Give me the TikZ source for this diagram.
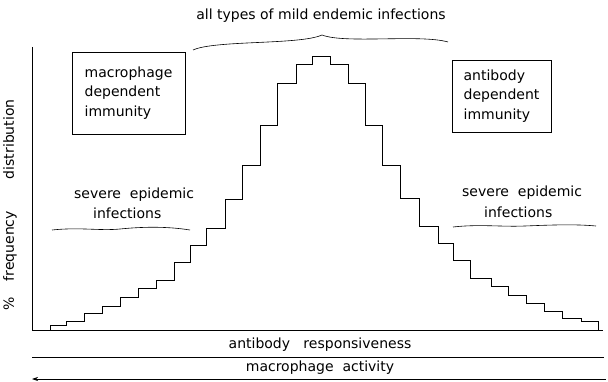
\documentclass[tikz,border=0pt]{standalone}
\usepackage{fontspec}
\setmainfont{DejaVu Sans}
\usetikzlibrary{arrows.meta}
\begin{document}
\begin{tikzpicture}[x=1pt,y=-1pt,
  lbl/.style={font=\fontsize{14}{19.5}\selectfont, inner sep=0pt},
  ibox/.style={draw, line width=0.7pt, align=left, inner sep=0pt,
    font=\fontsize{14}{19.5}\selectfont},
  axline/.style={line width=0.7pt},
  stairline/.style={line width=0.9pt, line join=miter},
  wave/.style={line width=0.6pt}]
\useasboundingbox (0,0) rectangle (608,382);

% title and brace
\node[lbl] (title) at (321,16) {all types of mild endemic infections};
\coordinate (bl) at (193,50);
\coordinate (bt) at (322,35);
\coordinate (br) at (448,42);
\draw[wave] (bl) .. controls (215,40) and (300,45) .. (bt)
            .. controls (345,44) and (420,34) .. (br);

% boxes
\node[ibox, minimum width=113pt, minimum height=82pt] (lbox) at (128.5,93)
  {macrophage\\dependent\\immunity};
\node[ibox, minimum width=99pt, minimum height=72pt] (rbox) at (501.5,96)
  {antibody\\dependent\\immunity};

% axes
\coordinate (o) at (32,330);
\coordinate (ytop) at (32,47);
\coordinate (xend) at (603,330);
\draw[axline] (ytop) -- (o) -- (xend);
\node[lbl, rotate=90] (ylab) at (10,205)
  {\%\hspace{16pt}frequency\hspace{32pt}distribution};

% staircase
\draw[stairline] (o) -- (50,330) |- (66.7,325.5) |- (84,321.7) |- (102.7,313.3)
  |- (120.7,306) |- (138.3,297.3) |- (156,288.3) |- (174.3,280)
  |- (190.3,262.3) |- (206.7,245.7) |- (225,228.3) |- (242.7,199.3)
  |- (260,165.7) |- (277.7,125.7) |- (296,83.3) |- (312,64) |- (330,56.7)
  |- (348.3,64) |- (365.7,83.3) |- (382.7,125) |- (400,165) |- (419.3,198.3)
  |- (438.3,226.7) |- (453,243) |- (470.7,260) |- (491.7,278) |- (508.3,286.7)
  |- (526.7,295) |- (544,303.3) |- (562.7,311.7) |- (581.7,318.3)
  |- (598,321.7) -- (598,330);

% severe epidemic labels
\node[lbl, anchor=west] (lsev) at (74,195) {severe\ \ epidemic};
\node[lbl, anchor=west] (linf) at (93,213) {infections};
\draw[wave] (52,230) .. controls (80,227) and (100,231) .. (120,229)
  .. controls (140,227) and (165,226) .. (190,230);
\node[lbl, anchor=west] (rsev) at (462,193) {severe\ \ epidemic};
\node[lbl, anchor=west] (rinf) at (484,212) {infections};
\draw[wave] (453,227) .. controls (480,224) and (500,227) .. (525,226)
  .. controls (550,225) and (575,224) .. (596,226);

% bottom scales
\node[lbl] (ab) at (320,345) {antibody\ \ \ responsiveness};
\coordinate (l2a) at (32,357);
\coordinate (l2b) at (604,357);
\draw[axline] (l2a) -- (l2b);
\node[lbl] (ma) at (320,368) {macrophage\ \ activity};
\coordinate (l3a) at (32,379);
\coordinate (l3b) at (606,379);
\draw[axline, {Stealth[length=6pt,width=4pt]}-] (l3a) -- (l3b);
\end{tikzpicture}
\end{document}
